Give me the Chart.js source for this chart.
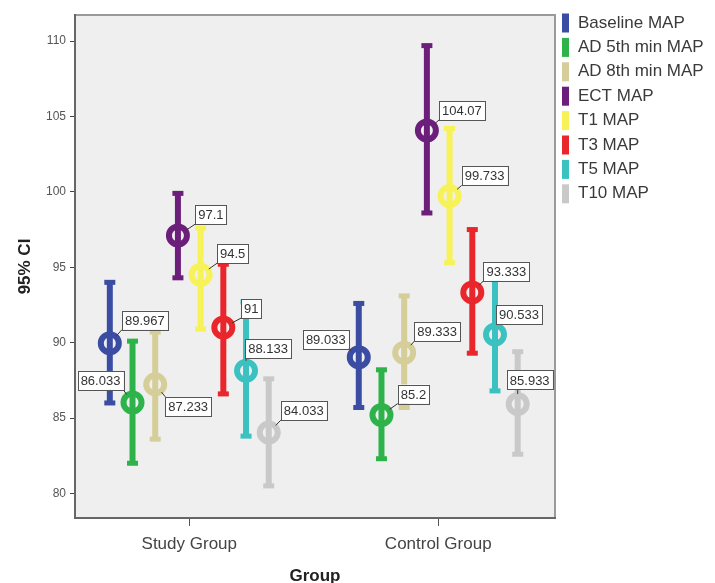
<!DOCTYPE html>
<html>
<head>
<meta charset="utf-8">
<script src="https://cdn.jsdelivr.net/npm/chart.js@4.4.0/dist/chart.umd.min.js"></script>
<style>
  body { margin: 0; background: #fff; }
</style>
</head>
<body>
<canvas id="myChart" width="715" height="583"></canvas>
<script>
// groups and series
const groups = ["Study Group", "Control Group"];
const seriesNames = ["Baseline MAP", "AD 5th min MAP", "AD 8th min MAP", "ECT MAP", "T1 MAP", "T3 MAP", "T5 MAP", "T10 MAP"];
const seriesColors = ["#3a4da3", "#2eb34b", "#d5ce98", "#6b1f7b", "#f6f257", "#e8262b", "#3cc1c1", "#c9c9c9"];

// means and 95% CI bounds
const studyMean = [89.967, 86.033, 87.233, 97.1, 94.5, 91, 88.133, 84.033];
const studyLow = [86.0, 82.0, 83.6, 94.3, 90.9, 86.6, 83.8, 80.5];
const studyHigh = [94.0, 90.1, 90.7, 99.9, 97.6, 95.2, 92.7, 87.6];
const controlMean = [89.033, 85.2, 89.333, 104.07, 99.733, 93.333, 90.533, 85.933];
const controlLow = [85.7, 82.3, 85.7, 98.6, 95.3, 89.3, 86.8, 82.6];
const controlHigh = [92.6, 88.2, 93.1, 109.7, 104.2, 97.5, 94.2, 89.4];

const yTicks = [80, 85, 90, 95, 100, 105, 110];

// label box placement (box centre relative to point, px)
const studyLabelPos = [[35, -23], [-32, -22], [33, 22], [33, -21], [32, -21], [28, -19], [22, -22], [35, -22]];
const controlLabelPos = [[-33, -18], [32, -21], [33, -21], [35, -20], [35, -20], [34, -21], [24, -20], [12, -24]];

const slot = 0.0912;

let datasets = seriesNames.map((name, i) => ({
    label: name,
    data: [
        { x: 0 + (i - 3.5) * slot, y: studyMean[i] },
        { x: 1 + (i - 3.5) * slot, y: controlMean[i] }
    ],
    ciLow: [studyLow[i], controlLow[i]],
    ciHigh: [studyHigh[i], controlHigh[i]],
    labelPos: [studyLabelPos[i], controlLabelPos[i]],
    borderColor: seriesColors[i],
    backgroundColor: "rgba(0,0,0,0)",
    pointRadius: 9,
    pointHoverRadius: 9,
    pointBorderWidth: 6,
    showLine: false
}));

const plotFrame = {
    id: "plotFrame",
    beforeDraw(chart) {
        const { ctx, chartArea: a } = chart;
        ctx.save();
        ctx.fillStyle = "#efefef";
        ctx.fillRect(a.left, a.top, a.right - a.left, a.bottom - a.top);
        ctx.strokeStyle = "#9a9a9a";
        ctx.lineWidth = 2;
        ctx.strokeRect(a.left, a.top, a.right - a.left, a.bottom - a.top);
        ctx.restore();
    }
};

const errorBars = {
    id: "errorBars",
    beforeDatasetsDraw(chart) {
        const ctx = chart.ctx;
        const ys = chart.scales.y;
        ctx.save();
        chart.data.datasets.forEach((ds, di) => {
            chart.getDatasetMeta(di).data.forEach((pt, j) => {
                let yl = ys.getPixelForValue(ds.ciLow[j]);
                let yh = ys.getPixelForValue(ds.ciHigh[j]);
                ctx.strokeStyle = ds.borderColor;
                ctx.fillStyle = ds.borderColor;
                ctx.lineWidth = 6;
                ctx.beginPath();
                ctx.moveTo(pt.x, yh);
                ctx.lineTo(pt.x, yl);
                ctx.stroke();
                ctx.fillRect(pt.x - 5.5, yh - 2.5, 11, 5);
                ctx.fillRect(pt.x - 5.5, yl - 2.5, 11, 5);
            });
        });
        ctx.restore();
    },
    afterDatasetsDraw(chart) {
        const ctx = chart.ctx;
        ctx.save();
        ctx.font = "13px 'Liberation Sans', Arial, sans-serif";
        ctx.textAlign = "center";
        ctx.textBaseline = "middle";
        chart.data.datasets.forEach((ds, di) => {
            chart.getDatasetMeta(di).data.forEach((pt, j) => {
                let txt = String(chart.data.datasets[di].data[j].y);
                let w = ctx.measureText(txt).width + 6;
                let h = 19;
                let cx = pt.x + ds.labelPos[j][0];
                let cy = pt.y + ds.labelPos[j][1];
                let bx = cx - w / 2, by = cy - h / 2;
                // leader line
                let tx = Math.min(Math.max(pt.x, bx), bx + w);
                let ty = Math.min(Math.max(pt.y, by), by + h);
                let dx = tx - pt.x, dy = ty - pt.y;
                let d = Math.sqrt(dx * dx + dy * dy);
                if (d > 11) {
                    ctx.strokeStyle = "#333";
                    ctx.lineWidth = 1;
                    ctx.beginPath();
                    ctx.moveTo(pt.x + dx / d * 10, pt.y + dy / d * 10);
                    ctx.lineTo(tx, ty);
                    ctx.stroke();
                }
                ctx.fillStyle = "#fff";
                ctx.fillRect(bx, by, w, h);
                ctx.strokeStyle = "#555";
                ctx.lineWidth = 1;
                ctx.strokeRect(Math.round(bx) + 0.5, Math.round(by) + 0.5, Math.round(w), h);
                ctx.fillStyle = "#333";
                ctx.fillText(txt, cx, cy + 1);
            });
        });
        ctx.restore();
    }
};

const sideLegend = {
    id: "sideLegend",
    afterDraw(chart) {
        const ctx = chart.ctx;
        ctx.save();
        ctx.font = "17px 'Liberation Sans', Arial, sans-serif";
        ctx.textBaseline = "middle";
        ctx.textAlign = "left";
        chart.data.datasets.forEach((ds, i) => {
            let y = 23 + i * 24.4;
            ctx.fillStyle = ds.borderColor;
            ctx.fillRect(562, y - 9.5, 7, 19);
            ctx.fillStyle = "#3a3a3a";
            ctx.fillText(ds.label, 578, y);
        });
        ctx.restore();
    }
};

const config = {
    type: "scatter",
    data: { datasets: datasets },
    options: {
        responsive: false,
        animation: false,
        devicePixelRatio: 1,
        events: [],
        layout: { padding: { left: 0, right: 160, top: 12, bottom: 0 } },
        plugins: {
            legend: { display: false },
            tooltip: { enabled: false }
        },
        scales: {
            x: {
                type: "linear",
                min: -0.459,
                max: 1.469,
                afterFit: (s) => { s.height = 65; },
                afterBuildTicks: (s) => { s.ticks = [{ value: 0 }, { value: 1 }]; },
                grid: { drawOnChartArea: false, drawTicks: true, tickLength: 8, color: "#555" },
                border: { color: "#666", width: 2 },
                ticks: {
                    padding: 8,
                    color: "#444",
                    font: { family: "'Liberation Sans', Arial, sans-serif", size: 17 },
                    callback: (v) => groups[Math.round(v)]
                },
                title: {
                    display: true,
                    text: "Group",
                    color: "#222",
                    font: { family: "'Liberation Sans', Arial, sans-serif", size: 17, weight: "bold", lineHeight: 0.8 },
                    padding: { top: 0, bottom: 0 }
                }
            },
            y: {
                type: "linear",
                min: 78.37,
                max: 111.73,
                afterFit: (s) => { s.width = 75; },
                afterBuildTicks: (s) => { s.ticks = yTicks.map(v => ({ value: v })); },
                grid: { drawOnChartArea: false, drawTicks: true, tickLength: 5, color: "#444" },
                border: { color: "#666", width: 2 },
                ticks: {
                    padding: 4,
                    color: "#555",
                    font: { family: "'Liberation Sans', Arial, sans-serif", size: 12 }
                },
                title: {
                    display: true,
                    text: "95% CI",
                    color: "#222",
                    font: { family: "'Liberation Sans', Arial, sans-serif", size: 17, weight: "bold", lineHeight: 1 },
                    padding: { top: 17, bottom: 0 }
                }
            }
        }
    },
    plugins: [plotFrame, errorBars, sideLegend]
};

const myChart = new Chart(document.getElementById("myChart"), config);
</script>
</body>
</html>
